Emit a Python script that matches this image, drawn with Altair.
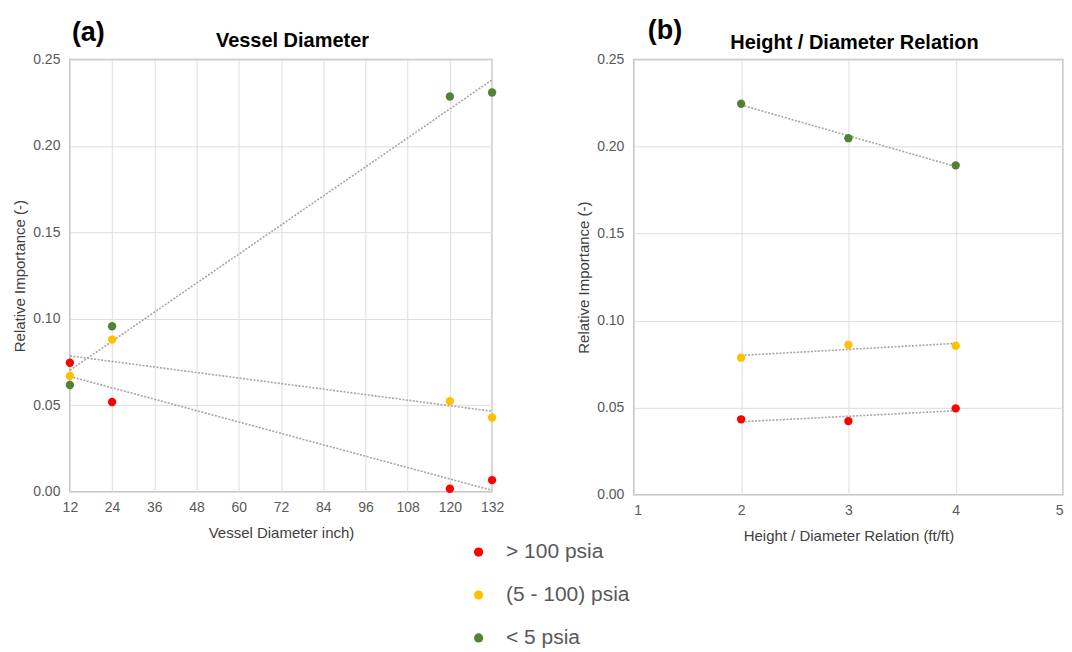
import altair as alt
import pandas as pd

series_names = ["> 100 psia", "(5 - 100) psia", "< 5 psia"]
series_colors = ["#FF0000", "#FFC000", "#548235"]

diam_x = [12, 24, 120, 132]
diam_high = [0.0746, 0.0519, 0.0017, 0.0067]
diam_mid = [0.0669, 0.0880, 0.0524, 0.0429]
diam_low = [0.0617, 0.0957, 0.2286, 0.2309]
diam_ticks = [12, 24, 36, 48, 60, 72, 84, 96, 108, 120, 132]

hd_x = [2, 3, 4]
hd_high = [0.0433, 0.0423, 0.0496]
hd_mid = [0.0787, 0.0861, 0.0856]
hd_low = [0.2246, 0.2048, 0.1892]
hd_ticks = [1, 2, 3, 4, 5]

y_ticks = [0.0, 0.05, 0.10, 0.15, 0.20, 0.25]
panel_tags = ["(a)", "(b)"]
panel_titles = ["Vessel Diameter", "Height / Diameter Relation"]
x_titles = ["Vessel Diameter inch)", "Height / Diameter Relation (ft/ft)"]
y_title = "Relative Importance (-)"

FONT = "Liberation Sans"


def make_df(xs, series_vals):
    rows = []
    for name, vals in zip(series_names, series_vals):
        for xv, yv in zip(xs, vals):
            rows.append({"x": xv, "y": yv, "series": name})
    return pd.DataFrame(rows)


df_a = make_df(diam_x, [diam_high, diam_mid, diam_low])
df_b = make_df(hd_x, [hd_high, hd_mid, hd_low])

color = alt.Color(
    "series:N",
    scale=alt.Scale(domain=series_names, range=series_colors),
    legend=alt.Legend(
        title=None,
        orient="none",
        legendX=399,
        legendY=483,
        labelFontSize=21,
        labelColor="#595959",
        labelFont=FONT,
        symbolType="circle",
        symbolSize=85,
        symbolStrokeWidth=0,
        rowPadding=21,
        labelOffset=17,
    ),
)


def panel(df, xdomain, xticks, tag, title, xtitle, w, h, tag_x, tag_y, title_x, title_y, flush):
    x = alt.X(
        "x:Q",
        scale=alt.Scale(domain=xdomain, nice=False, zero=False),
        axis=alt.Axis(values=xticks, title=xtitle, format="d", labelFlush=flush),
    )
    y = alt.Y(
        "y:Q",
        scale=alt.Scale(domain=[0, 0.25], nice=False),
        axis=alt.Axis(values=y_ticks, title=y_title, format=".2f"),
    )
    base = alt.Chart(df)
    trend = (
        base.transform_regression("x", "y", groupby=["series"])
        .mark_line(color="#a6a6a6", strokeDash=[2, 1.5], strokeWidth=1.6)
        .encode(x=x, y=y, detail="series:N")
    )
    pts = base.mark_circle(size=70, opacity=1).encode(x=x, y=y, color=color)
    tag_mark = (
        alt.Chart(pd.DataFrame({"t": [tag]}))
        .mark_text(font=FONT, fontSize=27, fontWeight="bold", align="left", baseline="top", color="#000000")
        .encode(text="t:N", x=alt.value(tag_x), y=alt.value(tag_y))
    )
    title_mark = (
        alt.Chart(pd.DataFrame({"t": [title]}))
        .mark_text(font=FONT, fontSize=20, fontWeight="bold", align="center", baseline="middle", color="#000000")
        .encode(text="t:N", x=alt.value(title_x), y=alt.value(title_y))
    )
    return alt.layer(trend, pts, tag_mark, title_mark).properties(width=w, height=h)


pa = panel(df_a, [12, 132], diam_ticks, panel_tags[0], panel_titles[0], x_titles[0],
           423, 433, 2, -40, 223, -19, False)
pb = panel(df_b, [1, 5], hd_ticks, panel_tags[1], panel_titles[1], x_titles[1],
           430, 436, 14, -42, 221, -17, True)

chart = (
    alt.hconcat(pa, pb, spacing=71)
    .properties(padding={"left": 4, "top": 7, "right": 0, "bottom": 0})
    .configure_view(stroke="#bfbfbf", strokeWidth=1.5)
    .configure_axis(
        labelFont=FONT,
        titleFont=FONT,
        labelFontSize=14,
        titleFontSize=15,
        labelColor="#595959",
        titleColor="#404040",
        titleFontWeight="normal",
        gridColor="#dedede",
        domain=False,
        ticks=False,
        labelPadding=10,
    )
    .configure_axisY(titlePadding=5)
    .configure_axisX(titlePadding=11, labelPadding=9)
)

chart.save("out.html", embed_options={"renderer": "svg", "actions": False})
